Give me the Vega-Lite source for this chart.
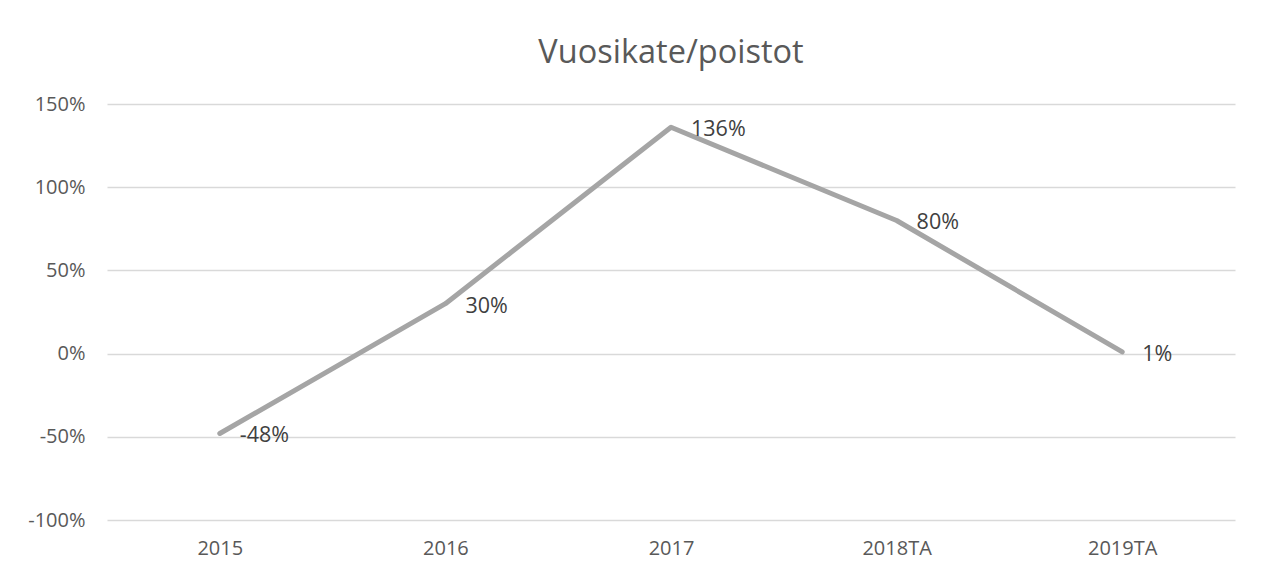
{
  "$schema": "https://vega.github.io/schema/vega-lite/v6.json",
  "width": 1128,
  "height": 416,
  "autosize": {"type": "none"},
  "padding": {"left": 107, "top": 104, "right": 29, "bottom": 60},
  "background": "white",
  "config": {
    "view": {"stroke": null},
    "font": "Open Sans",
    "locale": {"number": {"decimal": ".", "thousands": ",", "grouping": [3], "currency": ["$", ""], "minus": "-"}},
    "axis": {"labelFont": "Open Sans", "labelFontSize": 20, "labelColor": "#595959"}
  },
  "title": {
    "text": "Vuosikate/poistot",
    "fontSize": 32.5,
    "font": "Open Sans",
    "fontWeight": "normal",
    "color": "#595959",
    "anchor": "middle",
    "offset": 25
  },
  "data": {
    "values": [
      {"vuosi": "2015", "arvo": -0.48},
      {"vuosi": "2016", "arvo": 0.30},
      {"vuosi": "2017", "arvo": 1.36},
      {"vuosi": "2018TA", "arvo": 0.80},
      {"vuosi": "2019TA", "arvo": 0.01}
    ]
  },
  "encoding": {
    "x": {
      "field": "vuosi",
      "type": "ordinal",
      "sort": null,
      "scale": {"type": "point", "padding": 0.5},
      "axis": {"title": null, "labelAngle": 0, "ticks": false, "domain": false, "grid": false, "labelPadding": 18}
    },
    "y": {
      "field": "arvo",
      "type": "quantitative",
      "scale": {"domain": [-1, 1.5], "nice": false},
      "axis": {
        "title": null,
        "values": [-1, -0.5, 0, 0.5, 1, 1.5],
        "format": ".0%",
        "ticks": false,
        "domain": false,
        "grid": true,
        "gridColor": "#D9D9D9",
        "gridWidth": 1.5,
        "labelPadding": 22
      }
    }
  },
  "layer": [
    {
      "mark": {"type": "line", "color": "#A5A5A5", "strokeWidth": 5, "strokeCap": "round", "strokeJoin": "round"}
    },
    {
      "mark": {"type": "text", "align": "left", "baseline": "middle", "dx": 20, "dy": 3, "fontSize": 21.5, "color": "#404040", "font": "Open Sans"},
      "encoding": {"text": {"field": "arvo", "type": "quantitative", "format": ".0%"}}
    }
  ]
}
